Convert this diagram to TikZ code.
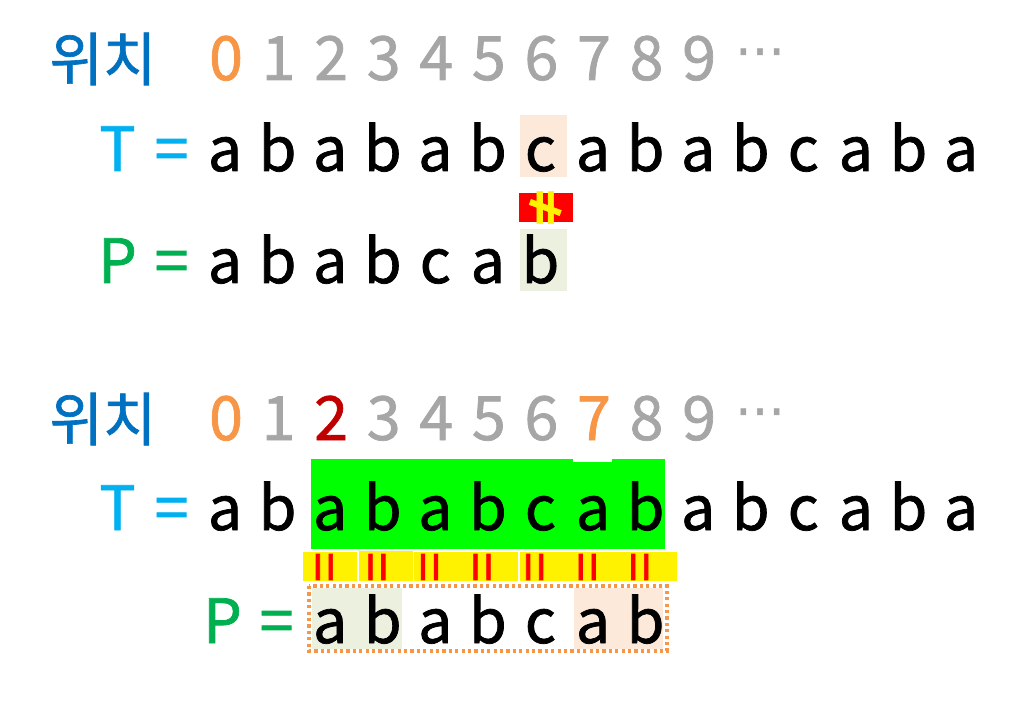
\documentclass[tikz,border=0pt]{standalone}
\usepackage{fontspec}
\setmainfont{Noto Sans CJK KR}[FakeBold=1.2]
\newfontfamily\djv{DejaVu Sans}[FakeBold=1]
\definecolor{kblue}{HTML}{0070C0}
\definecolor{tcyan}{HTML}{00B0F0}
\definecolor{pgreen}{HTML}{00B050}
\definecolor{gry}{HTML}{A6A6A6}
\definecolor{orng}{HTML}{F79646}
\definecolor{dred}{HTML}{C00000}
\definecolor{peach}{HTML}{FDE9D9}
\definecolor{lgreen}{HTML}{EBF1DE}
\definecolor{brgreen}{HTML}{00FF00}
\tikzset{
  lt/.style={anchor=base, inner sep=0pt, font=\fontsize{61}{70}\selectfont},
  kor/.style={anchor=center, inner sep=0pt, text=kblue, font=\fontsize{58}{66}\selectfont},
  eqv/.style={inner sep=0pt, rotate=90, text=red, font=\fontsize{54}{60}\selectfont},
  neqv/.style={inner sep=0pt, rotate=90, text=yellow, font=\bfseries\fontsize{46}{50}\selectfont},
  dots/.style={inner sep=0pt, text=gry, font=\djv\fontsize{50}{56}\selectfont},
}
\begin{document}
\begin{tikzpicture}[x=1pt,y=-1pt]
\useasboundingbox (0,0) rectangle (1030,708);
% ---------- block 1 ----------
\fill[peach] (520,115) rectangle (567,177);
\fill[lgreen] (520,229) rectangle (567,291);
\fill[red] (519,193) rectangle (573,222);
\node[kor] (k1) at (103,59) {위치};
\foreach \d/\c [count=\i from 0] in {0/orng,1/gry,2/gry,3/gry,4/gry,5/gry,6/gry,7/gry,8/gry,9/gry}
  \node[lt, text=\c] (da\i) at ({226+\i*52.57},80) {\d};
\node[dots] (ea) at (760,58) {⋯};
\node[lt, text=tcyan] (Ta) at (117.5,171) {T};
\node[lt, text=tcyan] (Tea) at (171.5,171) {=};
\foreach \ch [count=\i from 0] in {a,b,a,b,a,b,c,a,b,a,b,c,a,b,a}
  \node[lt] (ta\i) at ({225+\i*52.57},171) {\ch};
\node[neqv] (ne) at (546,207.5) {≠};
\node[lt, text=pgreen] (Pa) at (117.5,283) {P};
\node[lt, text=pgreen] (Pea) at (171.5,283) {=};
\foreach \ch [count=\i from 0] in {a,b,a,b,c,a,b}
  \node[lt] (pa\i) at ({225+\i*52.57},283) {\ch};
% ---------- block 2 ----------
\fill[brgreen] (311,459) rectangle (665,549);
\fill[white] (573,459) rectangle (612,462);
\fill[yellow] (303,552) rectangle (357,581);
\fill[yellow] (359,551) rectangle (413,581);
\fill[yellow] (414,552) rectangle (518,581);
\fill[yellow] (520,552) rectangle (677,581);
\fill[lgreen] (312,588) rectangle (402,649);
\fill[peach] (574,588) rectangle (663,649);
\draw[orng, line width=3.2pt, dash pattern=on 3.2pt off 3.2pt] (309,586) rectangle (667,651);
\node[kor] (k2) at (103,419) {위치};
\foreach \d/\c [count=\i from 0] in {0/orng,1/gry,2/dred,3/gry,4/gry,5/gry,6/gry,7/orng,8/gry,9/gry}
  \node[lt, text=\c] (db\i) at ({226+\i*52.57},440) {\d};
\node[dots] (eb) at (760,418) {⋯};
\node[lt, text=tcyan] (Tb) at (117.5,530) {T};
\node[lt, text=tcyan] (Teb) at (171.5,530) {=};
\foreach \ch [count=\i from 0] in {a,b,a,b,a,b,c,a,b,a,b,c,a,b,a}
  \node[lt] (tb\i) at ({225+\i*52.57},530) {\ch};
\foreach \i in {2,...,8}
  \node[eqv] (eq\i) at ({225+\i*52.57},567) {=};
\node[lt, text=pgreen] (Pb) at (222.5,643) {P};
\node[lt, text=pgreen] (Peb) at (276.5,643) {=};
\foreach \ch [count=\i from 2] in {a,b,a,b,c,a,b}
  \node[lt] (pb\i) at ({225+\i*52.57},643) {\ch};
\end{tikzpicture}
\end{document}
